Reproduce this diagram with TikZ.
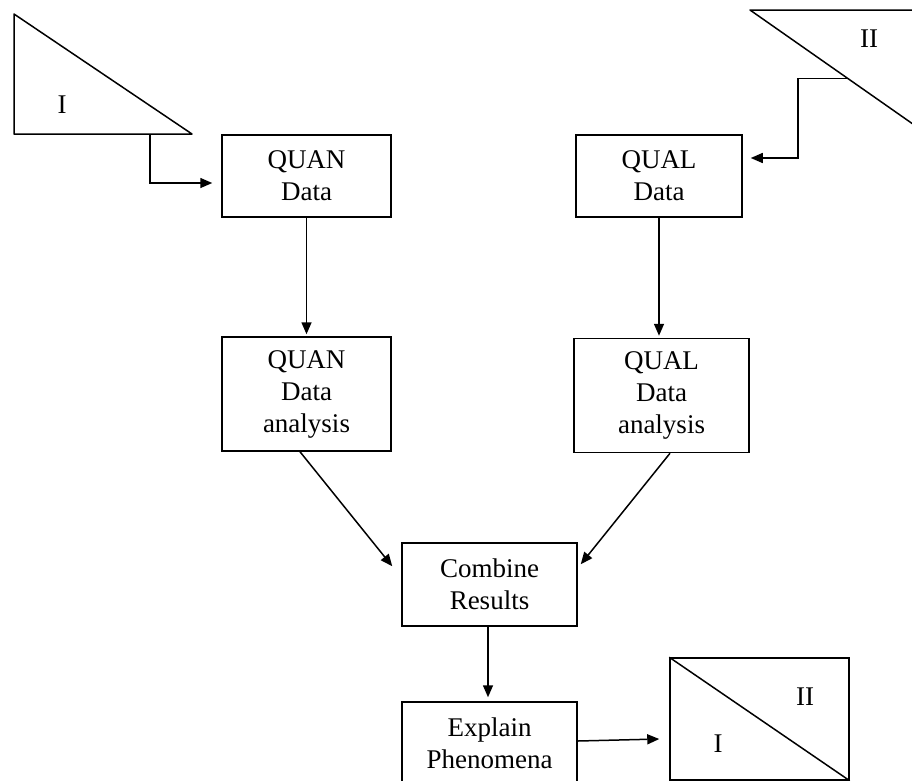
\documentclass[tikz,border=0pt]{standalone}
\usepackage{fontspec}
\setmainfont{Liberation Serif}
\usetikzlibrary{arrows.meta,calc}

\tikzset{
  box/.style={draw, line width=1.5pt, rectangle, inner sep=0pt, align=center,
              font=\fontsize{27}{32}\selectfont},
  lbl/.style={inner sep=0pt, anchor=base, font=\fontsize{27}{32}\selectfont},
  edge/.style={line width=1.5pt},
  arr/.style={line width=1.5pt, -{Triangle[length=12pt,width=10pt]}},
}

\begin{document}
\begin{tikzpicture}[x=1pt,y=-1pt]
  \useasboundingbox (0,0) rectangle (912,780);
  \clip (0,0) rectangle (912,780);

  % process boxes
  \node[box, minimum width=169pt, minimum height=82pt]  (qnd) at (306.5,176) {QUAN\\Data};
  \node[box, minimum width=169pt, minimum height=114pt] (qna) at (306.5,394) {QUAN\\Data\\analysis};
  \node[box, minimum width=166pt, minimum height=82pt]  (qld) at (659,176)   {QUAL\\Data};
  \node[box, minimum width=175pt, minimum height=114pt] (qla) at (661.5,395.5) {QUAL\\ Data\\analysis};
  \node[box, minimum width=175pt, minimum height=83pt]  (comb) at (489.5,584.5) {Combine\\Results};
  \node[box, minimum width=175pt, minimum height=82pt]  (expl) at (489.5,743) {Explain\\Phenomena};

  % split box at the end
  \node[box, minimum width=179pt, minimum height=122pt] (res) at (759.5,719) {};
  \draw[edge] (res.north west) -- (res.south east);
  \node[lbl] (resI)  at (718,752) {I};
  \node[lbl] (resII) at (805,705) {II};

  % triangle I (upper left)
  \coordinate (t1a) at (14,14);
  \coordinate (t1b) at (14,134);
  \coordinate (t1c) at (192,134);
  \draw[edge, line join=round] (t1a) -- (t1b) -- (t1c) -- cycle;
  \node[lbl] (t1I) at (62,113) {I};
  \coordinate (t1s) at (150,134);

  % triangle II (upper right, running off the edge)
  \coordinate (t2a) at (750,10);
  \coordinate (t2b) at (950,10);
  \coordinate (t2c) at (950,150);
  \draw[edge, line join=round] (t2a) -- (t2b) -- (t2c) -- cycle;
  \node[lbl] (t2II) at (869,47.5) {II};
  \coordinate (t2s) at (848,78.6);

  % connectors
  \draw[arr] (t1s) |- ([xshift=-9pt,yshift=-7pt]qnd.west);
  \draw[arr] (t2s) -- ++(-50,0) |- ([xshift=8pt,yshift=18pt]qld.east);
  \draw[arr, shorten >=2pt] (qnd.south) -- (qna.north);
  \draw[arr, shorten >=2pt] (qld.south) -- (qld.south |- qla.north);
  \draw[arr] ([xshift=-6.5pt]qna.south) -- ([xshift=-9pt,yshift=-24pt]comb.north west);
  \draw[arr] ([xshift=8.5pt]qla.south) -- ([xshift=3pt,yshift=-22pt]comb.north east);
  \draw[arr, shorten >=4pt] ([xshift=-1.5pt]comb.south) -- ([xshift=-1.5pt]expl.north);
  \draw[arr] ([yshift=2pt]expl.east) -- ([xshift=-10pt,yshift=-20pt]res.west);
\end{tikzpicture}
\end{document}
